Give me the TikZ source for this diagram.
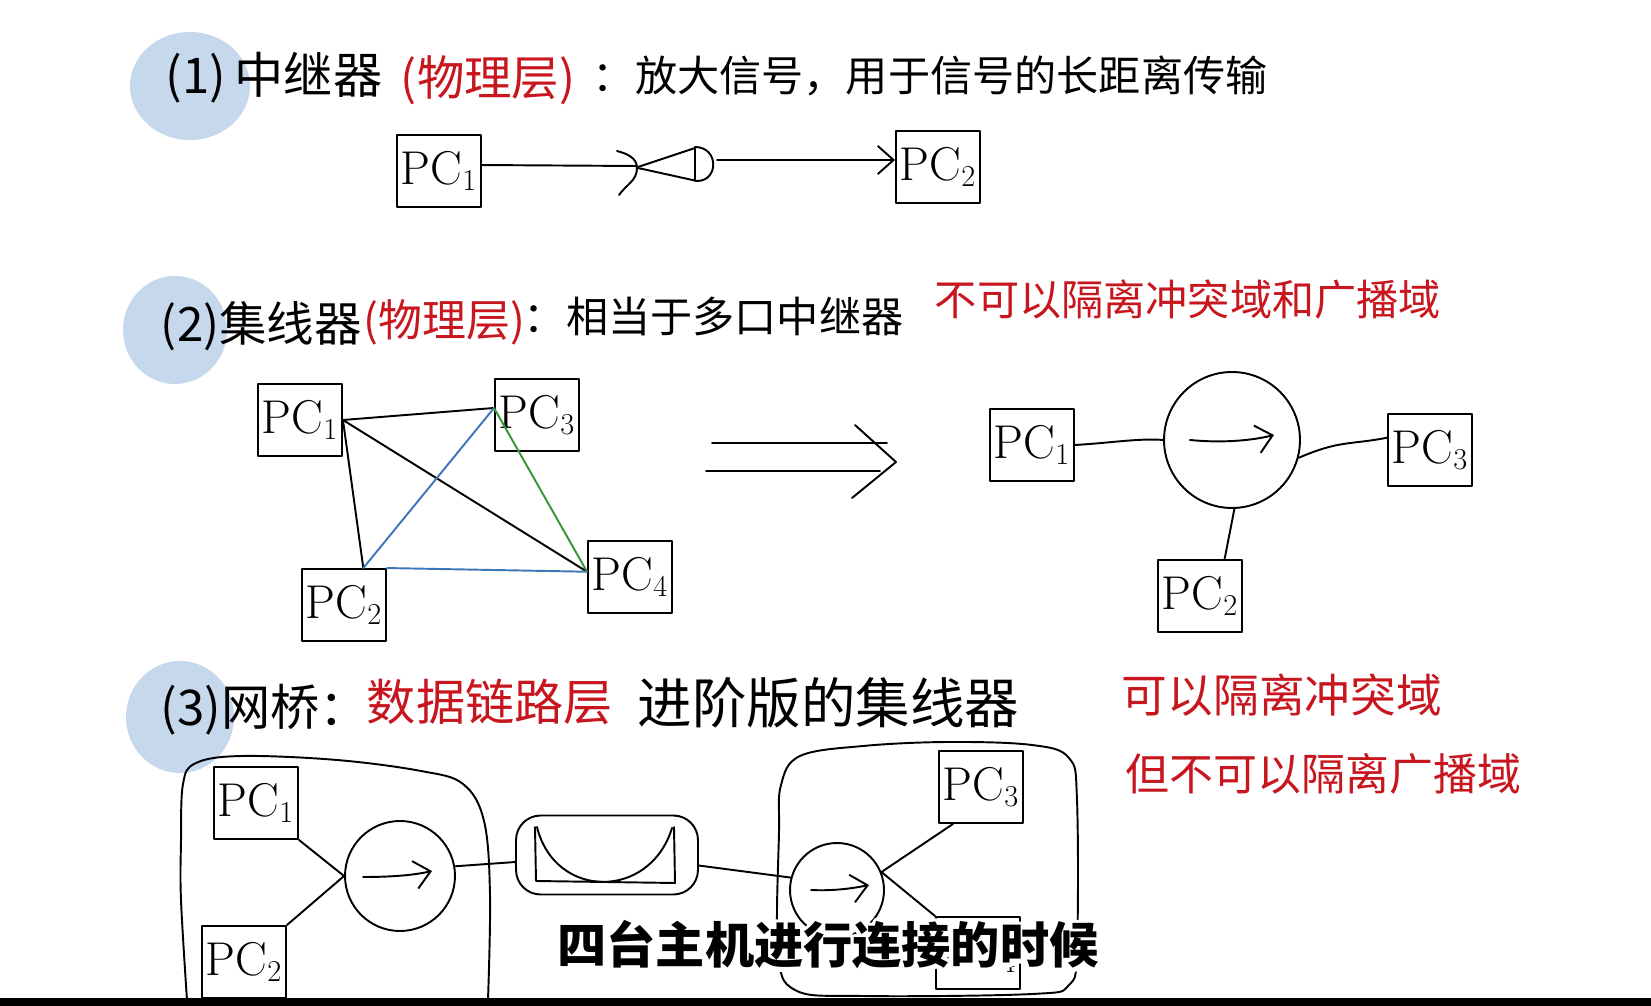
\documentclass[tikz,border=0pt]{standalone}
\usepackage{fontspec}
\newfontfamily\cjk{Noto Sans CJK SC}
\usetikzlibrary{arrows.meta}
\definecolor{hred}{RGB}{200,22,30}
\definecolor{blobc}{RGB}{198,216,236}
\definecolor{hblue}{RGB}{60,120,185}
\definecolor{hgreen}{RGB}{55,150,55}
\newcommand{\subtxt}{四台主机进行连接的时候}
\begin{document}
\begin{tikzpicture}[x=0.02cm,y=-0.02cm,line width=1.1pt,line cap=round,line join=round,
  pc/.style={draw,line width=1.1pt,minimum width=1.68cm,minimum height=1.44cm,inner sep=0pt,font=\fontsize{27}{27}\selectfont},
  hd/.style={anchor=west,inner sep=0pt,font=\cjk\fontsize{24}{24}\selectfont},
  hdred/.style={hd,text=hred},
  hubc/.style={draw,circle,line width=1.1pt,inner sep=0pt},
  barb/.style={-{Straight Barb[length=9pt,width=16pt,line width=1.1pt]}},
  sub/.style={font=\cjk\bfseries\fontsize{28}{28}\selectfont,inner sep=0pt}
]
\useasboundingbox (0,0) rectangle (1651,1006);
\fill[white] (0,0) rectangle (1651,1006);

% blue blobs
\fill[blobc] (190,86) ellipse [x radius=60, y radius=54];
\fill[blobc] (175,330) ellipse [x radius=52, y radius=54];
\fill[blobc] (180,717) ellipse [x radius=54, y radius=56];

% ---------- section 1 ----------
\node[hd,font=\cjk\fontsize{28}{28}\selectfont] (t1a) at (165,78) {(1)\,中继器};
\node[hdred,font=\cjk\fontsize{27}{27}\selectfont] (t1b) at (400,80) {(物理层)};
\node[hd] (t1c) at (592,76) {：放大信号，用于信号的长距离传输};

\node[pc] (s1pc1) at (439,171) {PC$_1$};
\node[pc] (s1pc2) at (938,167) {PC$_2$};
\coordinate (rp) at (636,166);
\draw ([yshift=3.4pt]s1pc1.east) -- (rp);
\draw (617,151) to[out=-15,in=90] (637,168) to[out=-90,in=55] (619,195);
\draw (638,167) -- (695,148);
\draw (638,168) -- (697,181);
\draw (695,147) -- (695,181);
\draw (695,147) .. controls (719,147) and (719,181) .. (697,181);
\coordinate (rpo) at (717,160);
\draw[barb] (rpo) -- (rpo -| s1pc2.west);

% ---------- section 2 ----------
\node[hd,font=\cjk\fontsize{27}{27}\selectfont] (t2a) at (160,326) {(2)集线器};
\node[hdred,font=\cjk\fontsize{25}{25}\selectfont] (t2b) at (363,322) {(物理层)};
\node[hd] (t2c) at (523,316) {：相当于多口中继器};
\node[hdred] (t2d) at (934,300) {不可以隔离冲突域和广播域};

\node[pc] (m1) at (300,420) {PC$_1$};
\node[pc] (m3) at (537,415) {PC$_3$};
\node[pc] (m2) at (344,605) {PC$_2$};
\node[pc] (m4) at (630,577) {PC$_4$};
\coordinate (a1) at (m1.east);
\coordinate (a3) at ([yshift=4pt]m3.west);
\coordinate (a2) at ([xshift=11pt]m2.north);
\coordinate (a4) at ([yshift=3pt]m4.west);
\draw (a1) -- (a3);
\draw (a1) -- (a4);
\draw (a1) -- (a2);
\draw[hblue] (a2) -- (a3);
\draw[hblue] (m2.north east) -- (a4);
\draw[hgreen] (a3) -- (a4);

% double arrow
\draw (712,443) -- (887,443);
\draw (706,471) -- (880,471);
\draw (855,425) -- (896,462) -- (852,498);

\node[hubc,minimum size=2.72cm] (hub) at (1232,440) {};
\node[pc] (h1) at (1032,445) {PC$_1$};
\node[pc] (h3) at (1430,450) {PC$_3$};
\node[pc] (h2) at (1200,596) {PC$_2$};
\draw (h1.east) .. controls (1110,443) and (1140,438) .. (hub.west);
\draw (hub.-15) .. controls (1340,440) and (1350,445) .. ([yshift=7pt]h3.west);
\draw (hub.-88) -- ([xshift=14pt]h2.north);
\draw[barb] (1190,440) .. controls (1220,443) and (1250,441) .. (1274,435);

% ---------- section 3 ----------
\node[hd,font=\cjk\fontsize{28}{28}\selectfont] (t3a) at (160,710) {(3)网桥：};
\node[hdred,font=\cjk\fontsize{28}{28}\selectfont] (t3b) at (366,702) {数据链路层};
\node[hd,font=\cjk\fontsize{31}{31}\selectfont] (t3c) at (637,703) {进阶版的集线器};
\node[hdred,font=\cjk\fontsize{26}{26}\selectfont] (t3d) at (1121,695) {可以隔离冲突域};
\node[hdred,font=\cjk\fontsize{25}{25}\selectfont] (t3e) at (1125,774) {但不可以隔离广播域};

% left cloud
\draw plot[smooth,tension=0.6] coordinates {(187,1000) (181,900) (181,842) (183,784) (196,763) (242,756) (337,760) (421,771) (463,784) (484,821) (490,895) (488,1000)};
% right cloud
\draw plot[smooth cycle,tension=0.6] coordinates {(779,832) (781,785) (800,756) (863,746) (948,742) (1032,745) (1069,758) (1077,800) (1077,948) (1069,985) (1032,994) (863,996) (795,990) (778,950)};

\node[pc] (b1) at (256,803) {PC$_1$};
\node[pc] (b2) at (244,962) {PC$_2$};
\node[hubc,minimum size=2.2cm] (hl) at (400,876) {};
\node[hubc,minimum size=1.88cm] (hr) at (837,890) {};
\node[pc] (b3) at (981,787) {PC$_3$};
\node[pc] (b4) at (978,953) {PC$_4$};
\draw (b1.south east) -- (hl.west);
\draw (b2.north east) -- (hl.west);
\draw[barb] (363,877) .. controls (385,877) and (410,876) .. (432,871);

\node[draw,rounded corners=14pt,line width=1.1pt,minimum width=3.64cm,minimum height=1.58cm,inner sep=0pt] (br) at (607,855) {};
\draw (535,827) -- (536,881) -- (675,883) -- (674,827);
\draw (537,827) .. controls (555,900) and (650,900) .. (672,828);
\draw (hl.10) -- ([yshift=-4pt]br.west);
\draw ([yshift=-6pt]br.east) -- (hr.165);

\draw (hr.22) -- ([xshift=8.5pt]b3.south west);
\draw (hr.22) -- (b4.north west);
\draw[barb] (811,890) .. controls (830,891) and (850,889) .. (869,885);

% bottom bar
\fill[black] (0,998) rectangle (1651,1006);

% subtitle with white halo (stroked copy underneath, same node)
\node[sub] (subtitle) at (828,945) {\makebox[0pt][l]{\special{pdf:literal direct 1 Tr 1 G 4.5 w}\subtxt\special{pdf:literal direct 0 Tr 0 G 1 w}}\subtxt};
\end{tikzpicture}
\end{document}
